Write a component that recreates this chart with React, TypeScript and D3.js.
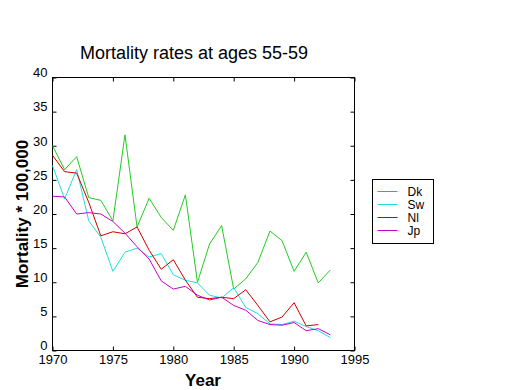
import React, { useEffect, useRef } from 'react';
import * as d3 from 'd3';

const years = d3.range(1970, 1994);
const dk = [30.0, 26.5, 28.4, 22.4, 22.0, 19.0, 31.6, 18.1, 22.3, 19.5, 17.6, 22.8, 10.0, 15.6, 18.3, 9.0, 10.5, 12.9, 17.5, 16.1, 11.6, 14.4, 9.9, 11.8];
const sw = [27.1, 22.2, 26.5, 19.0, 16.6, 11.6, 14.4, 15.0, 13.7, 14.2, 11.1, 10.3, 9.9, 8.1, 7.7, 9.2, 6.3, 5.4, 3.9, 3.8, 4.3, 3.5, 2.9, 1.9];
const nl = [28.6, 26.2, 26.0, 21.7, 16.8, 17.4, 17.1, 18.1, 14.7, 11.9, 13.3, 10.3, 7.8, 7.6, 7.8, 7.6, 8.9, 6.6, 4.2, 4.9, 7.0, 3.6, 3.8];
const jp = [22.6, 22.5, 20.0, 20.2, 20.0, 18.9, 17.2, 15.2, 13.4, 10.2, 9.0, 9.4, 8.1, 7.4, 7.8, 6.6, 5.9, 4.4, 3.8, 3.7, 4.1, 2.9, 3.2, 2.3];
const seriesNames = ['Dk', 'Sw', 'Nl', 'Jp'];
const seriesColors = ['#22cc22', '#22dddd', '#cc0000', '#cc00cc'];
const xTicks = [1970, 1975, 1980, 1985, 1990, 1995];
const yTicks = [0, 5, 10, 15, 20, 25, 30, 35, 40];

const App = () => {
  const ref = useRef<SVGSVGElement>(null);

  useEffect(() => {
    const svg = d3.select(ref.current)
      .attr('width', 520)
      .attr('height', 390);

    svg.selectAll('*').remove();
    svg.append('rect').attr('width', 520).attr('height', 390).attr('fill', '#fff');

    const left = 52.5, right = 354.5, top = 77.5, bottom = 350.5;
    const x = d3.scaleLinear().domain([1970, 1995]).range([left, right]);
    const y = d3.scaleLinear().domain([0, 40]).range([bottom, top]);
    const font = '"Liberation Sans", Arial, sans-serif';

    // frame
    svg.append('rect')
      .attr('x', left).attr('y', top)
      .attr('width', right - left).attr('height', bottom - top)
      .attr('fill', 'none').attr('stroke', '#000');

    // axes, ticks point inward
    const bx = svg.append('g')
      .attr('transform', `translate(0,${bottom})`)
      .call(d3.axisBottom(x).tickValues(xTicks).tickFormat(d3.format('d')).tickSizeInner(-4).tickSizeOuter(0).tickPadding(6));
    const tx = svg.append('g')
      .attr('transform', `translate(0,${top})`)
      .call(d3.axisTop(x).tickValues(xTicks).tickFormat(() => '').tickSizeInner(-4).tickSizeOuter(0));
    const ly = svg.append('g')
      .attr('transform', `translate(${left},0)`)
      .call(d3.axisLeft(y).tickValues(yTicks).tickSizeInner(-4).tickSizeOuter(0).tickPadding(5));
    const ry = svg.append('g')
      .attr('transform', `translate(${right},0)`)
      .call(d3.axisRight(y).tickValues(yTicks).tickFormat(() => '').tickSizeInner(-4).tickSizeOuter(0));
    [bx, tx, ly, ry].forEach(g => {
      g.select('.domain').remove();
      g.selectAll('text').attr('font-family', font).attr('font-size', 13).attr('fill', '#000');
    });
    bx.selectAll('text').attr('dy', '0.6em');
    ly.selectAll('text').attr('dy', '-0.05em');

    // lines
    const allSeries = [dk, sw, nl, jp];
    const line = d3.line<number>()
      .x((d, i) => x(years[i]))
      .y(d => y(d));
    allSeries.forEach((s, i) => {
      svg.append('path')
        .datum(s)
        .attr('d', line)
        .attr('fill', 'none')
        .attr('stroke', seriesColors[i])
        .attr('stroke-width', 1);
    });

    // title and labels
    svg.append('text')
      .attr('x', 194).attr('y', 59)
      .attr('text-anchor', 'middle')
      .attr('font-family', font).attr('font-size', 18)
      .text('Mortality rates at ages 55-59');
    svg.append('text')
      .attr('x', 203).attr('y', 386)
      .attr('text-anchor', 'middle')
      .attr('font-family', font).attr('font-size', 17).attr('font-weight', 'bold')
      .text('Year');
    svg.append('text')
      .attr('transform', 'translate(28,214) rotate(-90)')
      .attr('text-anchor', 'middle')
      .attr('font-family', font).attr('font-size', 17).attr('font-weight', 'bold')
      .text('Mortality * 100,000');

    // legend
    const lg = svg.append('g').attr('transform', 'translate(372.5,179.5)');
    lg.append('rect').attr('width', 61).attr('height', 64).attr('fill', '#fff').attr('stroke', '#000');
    seriesNames.forEach((name, i) => {
      const yy = 12 + i * 13;
      lg.append('line').attr('x1', 5).attr('x2', 25).attr('y1', yy).attr('y2', yy)
        .attr('stroke', seriesColors[i]);
      lg.append('text').attr('x', 35).attr('y', yy + 4)
        .attr('font-family', font).attr('font-size', 12)
        .text(name);
    });
  }, []);

  return <svg ref={ref} style={{ position: 'absolute', left: 0, top: 0, display: 'block' }}></svg>;
};

export default App;
